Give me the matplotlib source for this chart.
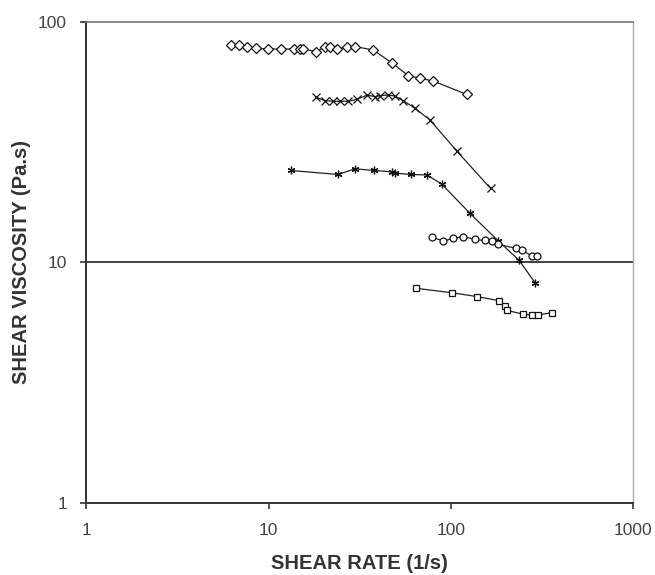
import matplotlib
matplotlib.use("Agg")
import matplotlib.pyplot as plt
from matplotlib.ticker import FixedLocator, FixedFormatter, NullLocator

plt.rcParams['font.family'] = ['Liberation Sans', 'DejaVu Sans']

# series (shear rate 1/s, viscosity Pa.s)
rate_diamond = [6.2, 6.9, 7.6, 8.5, 9.9, 11.7, 13.8, 14.9, 15.5, 18.3, 20.4, 21.7,
                23.6, 26.8, 29.8, 37.5, 47.3, 58.4, 67.7, 80.1, 122]
visc_diamond = [80.1, 80.1, 78.8, 77.5, 77.0, 77.0, 77.0, 77.0, 77.0, 75.1, 78.8, 78.3,
                77.0, 78.3, 78.8, 76.3, 67.6, 59.7, 58.2, 56.7, 49.9]

rate_cross = [18.3, 20.4, 22.6, 24.6, 27.3, 30.6, 34.8, 38.3, 40.8, 45.3, 49.3, 54.8,
              63.5, 76.8, 108.4, 165.3]
visc_cross = [48.5, 47.0, 46.7, 46.7, 46.7, 47.6, 49.6, 48.8, 49.3, 49.6, 49.1, 47.0,
              43.7, 39.1, 28.9, 20.3]

rate_star = [13.2, 24.1, 29.8, 37.8, 47.3, 49.3, 60.2, 73.7, 89.0, 127.3, 182.0, 237.4, 289.4]
visc_star = [24.1, 23.2, 24.5, 24.1, 23.8, 23.5, 23.2, 23.1, 21.2, 16.0, 12.3, 10.2, 8.25]

rate_circle = [78.5, 90.8, 103.1, 117, 135.6, 153.9, 167.5, 182.0, 227, 247.2, 277.6, 298.7]
visc_circle = [12.76, 12.28, 12.58, 12.82, 12.46, 12.34, 12.28, 11.88, 11.46, 11.22, 10.66, 10.66]

rate_square = [64.6, 101, 139.1, 183.7, 198.2, 202.5, 247.8, 277.6, 301.7, 357.5]
visc_square = [7.81, 7.49, 7.22, 6.94, 6.60, 6.33, 6.11, 6.05, 6.05, 6.19]

x_ticks = [1, 10, 100, 1000]
x_tick_labels = ['1', '10', '100', '1000']
y_ticks = [1, 10, 100]
y_tick_labels = ['1', '10', '100']

fig = plt.figure(figsize=(6.55, 5.75), dpi=100)
ax = fig.add_axes([0.132, 0.1247, 0.8344, 0.8376])

ax.set_xscale('log')
ax.set_yscale('log')
ax.set_xlim(1, 1000)
ax.set_ylim(1, 100)

# gridline at 10
ax.axhline(10, color='#333333', lw=1.3, zorder=1)

line_kw = dict(color='#222222', lw=0.9, mfc='white', mec='#111111', zorder=3)
ax.plot(rate_diamond, visc_diamond, marker='D', ms=4.6, mew=0.9, **line_kw)
ax.plot(rate_cross, visc_cross, marker='x', ms=5.5, mew=0.9, **line_kw)
ax.plot(rate_star, visc_star, marker=(6, 2, 0), ms=5.5, mew=0.9, **line_kw)
ax.plot(rate_circle, visc_circle, marker='o', ms=5, mew=0.9, **line_kw)
ax.plot(rate_square, visc_square, marker='s', ms=5, mew=0.9, **line_kw)

ax.xaxis.set_major_locator(FixedLocator(x_ticks))
ax.xaxis.set_major_formatter(FixedFormatter(x_tick_labels))
ax.yaxis.set_major_locator(FixedLocator(y_ticks))
ax.yaxis.set_major_formatter(FixedFormatter(y_tick_labels))
ax.xaxis.set_minor_locator(NullLocator())
ax.yaxis.set_minor_locator(NullLocator())

ax.tick_params(axis='both', which='major', direction='out', length=4, width=1.2,
               color='#333333', labelcolor='#444444', labelsize=12.5)
ax.tick_params(axis='x', pad=10)
ax.tick_params(axis='y', pad=10)

for side in ['left', 'bottom']:
    ax.spines[side].set_color('#333333')
    ax.spines[side].set_linewidth(1.4)
ax.spines['top'].set_color('#777777')
ax.spines['top'].set_linewidth(1.2)
ax.spines['right'].set_color('#aaaaaa')
ax.spines['right'].set_linewidth(1.0)

ax.set_xlabel('SHEAR RATE (1/s)', fontsize=14.5, fontweight='bold', color='#333333', labelpad=12)
ax.set_ylabel('SHEAR VISCOSITY (Pa.s)', fontsize=14.5, fontweight='bold', color='#333333', labelpad=5)

fig.savefig('out.png', dpi=100)
